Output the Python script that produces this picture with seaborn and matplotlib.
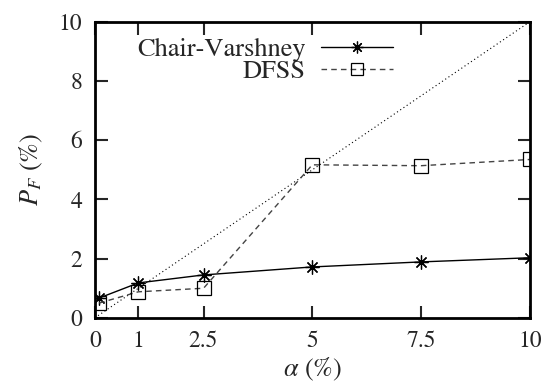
import pandas as pd
import matplotlib
matplotlib.use('Agg')
import matplotlib.pyplot as plt
import seaborn as sns

# data
alpha = [0.1, 1, 2.5, 5, 7.5, 10]
chair_varshney = [0.67, 1.18, 1.45, 1.72, 1.89, 2.03]
dfss = [0.50, 0.88, 1.00, 5.17, 5.14, 5.35]
diag = [0, 10]
xticks = [0, 1, 2.5, 5, 7.5, 10]
xticklabels = ['0', '1', '2.5', '5', '7.5', '10']
yticks = [0, 2, 4, 6, 8, 10]

sns.set_theme(style='white')
plt.rcParams['font.family'] = ['STIXGeneral', 'DejaVu Serif']
plt.rcParams['mathtext.fontset'] = 'stix'

fig = plt.figure(figsize=(5.45, 3.9), dpi=100)
ax = fig.add_axes([0.174, 0.185, 0.798, 0.759])

df = pd.DataFrame({'alpha': alpha, 'cv': chair_varshney, 'dfss': dfss})

sns.lineplot(x=diag, y=diag, ax=ax, color='black', linestyle=(0, (1, 2.5)),
             linewidth=0.8)
sns.lineplot(data=df, x='alpha', y='cv', ax=ax, color='black', linewidth=1.0,
             marker=(8, 2, 0), markersize=10, markeredgewidth=0.9,
             markeredgecolor='black', label='Chair-Varshney')
sns.lineplot(data=df, x='alpha', y='dfss', ax=ax, color='#444444', linewidth=1.0,
             linestyle=(0, (4, 3)), marker='s', markersize=10,
             markerfacecolor='none', markeredgecolor='black',
             markeredgewidth=0.9, label='DFSS')

ax.set_xlim(0, 10)
ax.set_ylim(0, 10)
ax.set_xticks(xticks)
ax.set_xticklabels(xticklabels)
ax.set_yticks(yticks)
ax.tick_params(direction='in', length=9, width=1.5, labelsize=17, top=True,
               right=True, bottom=True, left=True, pad=9)
for s in ax.spines.values():
    s.set_linewidth(2)
    s.set_color('black')
    s.set_visible(True)

ax.set_xlabel(r'$\alpha$ (%)', fontsize=19, labelpad=3)
ax.set_ylabel(r'$P_F$ (%)', fontsize=19, labelpad=10)

leg = ax.legend(loc='upper right', bbox_to_anchor=(0.715, 0.99), markerfirst=False,
                frameon=False, fontsize=19, handlelength=2.7, handletextpad=0.6,
                labelspacing=-0.1, borderaxespad=0.1, markerscale=0.85)
# right-align the legend texts like gnuplot
leg._legend_handle_box.get_children()[0].align = 'right'

fig.savefig('out.png', dpi=100)
